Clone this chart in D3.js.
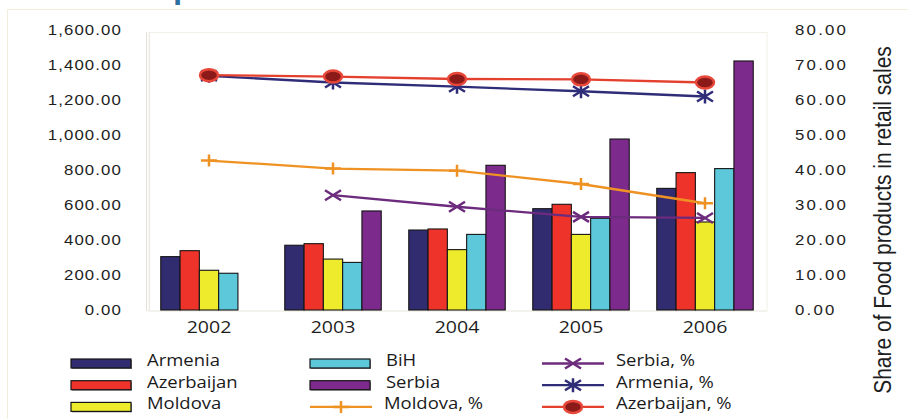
<!DOCTYPE html>
<html>
<head>
<meta charset="utf-8">
<script src="https://cdn.jsdelivr.net/npm/d3@7"></script>
<style>
  body { margin: 0; background: #fff; }
  svg { display: block; }
</style>
</head>
<body>
<svg id="chart" width="908" height="419"></svg>
<script>
// --- data ---
var years = ["2002", "2003", "2004", "2005", "2006"];
var barSeries = ["Armenia", "Azerbaijan", "Moldova", "BiH", "Serbia"];
var armenia = [305, 370, 457, 579, 695];
var azerbaijan = [339, 379, 463, 604, 785];
var moldova = [227, 291, 345, 432, 503];
var bih = [210, 272, 432, 524, 808];
var serbia = [null, 566, 827, 977, 1423];

var serbiaPct = [null, 32.8, 29.5, 26.6, 26.3];
var armeniaPct = [66.9, 65.0, 63.8, 62.5, 61.0];
var moldovaPct = [42.7, 40.4, 39.8, 36.0, 30.5];
var azerbaijanPct = [67.1, 66.7, 66.0, 65.9, 65.0];

var leftTicks = [0, 200, 400, 600, 800, 1000, 1200, 1400, 1600];
var rightTicks = [0, 10, 20, 30, 40, 50, 60, 70, 80];
var rightTitle = "Share of Food products in retail sales";

var barColors = {Armenia: "#312c6f", Azerbaijan: "#ee332b", Moldova: "#eeea2c", BiH: "#5cc8d9", Serbia: "#7c2a8c"};
var barValues = {Armenia: armenia, Azerbaijan: azerbaijan, Moldova: moldova, BiH: bih, Serbia: serbia};

var lineSeries = [
	{name: "Serbia, %", values: serbiaPct, color: "#6c2b7d", marker: "x"},
	{name: "Armenia, %", values: armeniaPct, color: "#2f2d78", marker: "star"},
	{name: "Moldova, %", values: moldovaPct, color: "#ef9224", marker: "plus"},
	{name: "Azerbaijan, %", values: azerbaijanPct, color: "#e4402e", marker: "dot"}
];

var svg = d3.select("#chart"),
	plotLeft = 147,
	plotRight = 767,
	plotTop = 30,
	plotBottom = 310;

var x0 = d3.scaleBand().domain(years).range([plotLeft, plotRight]).paddingInner(0.222).paddingOuter(0.111),
	x1 = d3.scaleBand().domain(barSeries).range([0, x0.bandwidth()]),
	yL = d3.scaleLinear().domain([0, 1600]).range([plotBottom, plotTop]),
	yR = d3.scaleLinear().domain([0, 80]).range([plotBottom, plotTop]);

// faint outer frame + the tail of a title that is cut off above the picture
svg.append("path")
	.attr("d", "M7.5,419 L7.5,9.5 L908,9.5")
	.attr("fill", "none").attr("stroke", "#f1eedd").attr("stroke-width", 1);
svg.append("text")
	.attr("x", 173).attr("y", -2.5)
	.attr("font-family", "Open Sans").attr("font-weight", "bold").attr("font-size", 30)
	.attr("fill", "#2e6f9e")
	.text("p");

// plot frame
svg.append("rect")
	.attr("x", plotLeft + 2).attr("y", plotTop + 2.5)
	.attr("width", plotRight - plotLeft - 2).attr("height", plotBottom - plotTop - 1.5)
	.attr("fill", "none").attr("stroke", "#f1efe6");
svg.append("line")
	.attr("x1", plotLeft - 0.5).attr("x2", plotLeft - 0.5).attr("y1", plotTop + 2).attr("y2", plotBottom + 1)
	.attr("stroke", "#e2e0d8");
svg.append("line")
	.attr("x1", plotLeft + 2.5).attr("x2", plotLeft + 2.5).attr("y1", plotTop + 2).attr("y2", plotBottom + 1)
	.attr("stroke", "#eceae2");
svg.append("line")
	.attr("x1", plotLeft).attr("x2", plotRight).attr("y1", plotBottom + 1).attr("y2", plotBottom + 1)
	.attr("stroke", "#efeee8");

// --- BARS --- //
var group = svg.selectAll(".year").data(years).enter().append("g")
	.attr("class", "year")
	.attr("transform", function(d) { return "translate(" + x0(d) + ",0)"; });

group.selectAll("rect")
	.data(function(d, i) {
		return barSeries.map(function(s) { return {series: s, value: barValues[s][i]}; })
			.filter(function(b) { return b.value !== null; });
	})
	.enter().append("rect")
	.attr("x", function(d) { return x1(d.series); })
	.attr("y", function(d) { return yL(d.value); })
	.attr("width", x1.bandwidth())
	.attr("height", function(d) { return yL(0) - yL(d.value); })
	.attr("fill", function(d) { return barColors[d.series]; })
	.attr("stroke", "#151515")
	.attr("stroke-width", 1.1);

// --- LINES --- //
function markerPath(type) {
	if (type === "x") return "M-8,-5L8,5M-8,5L8,-5";
	if (type === "star") return "M-8,-5L8,5M-8,5L8,-5M0,-7L0,7";
	if (type === "plus") return "M-8,0L8,0M0,-6L0,6";
	return null;
}

function drawMarker(sel, s) {
	if (s.marker === "dot") {
		sel.append("ellipse").attr("rx", 9).attr("ry", 6)
			.attr("fill", "#8c1a18").attr("stroke", "#e8483a").attr("stroke-width", 2.5);
	} else {
		sel.append("path").attr("d", markerPath(s.marker))
			.attr("fill", "none").attr("stroke", s.color).attr("stroke-width", 2.5);
	}
}

var cx = function(i) { return x0(years[i]) + x0.bandwidth() / 2; };
var line = d3.line()
	.defined(function(d) { return d !== null; })
	.x(function(d, i) { return cx(i); })
	.y(function(d) { return yR(d); });

lineSeries.forEach(function(s) {
	var g = svg.append("g").attr("class", "series");
	g.append("path")
		.datum(s.values)
		.attr("d", line)
		.attr("fill", "none")
		.attr("stroke", s.color)
		.attr("stroke-width", 2.3);
	g.selectAll(".mk")
		.data(s.values.map(function(v, i) { return {v: v, i: i}; }).filter(function(d) { return d.v !== null; }))
		.enter().append("g")
		.attr("class", "mk")
		.attr("transform", function(d) { return "translate(" + cx(d.i) + "," + yR(d.v) + ")"; })
		.each(function() { drawMarker(d3.select(this), s); });
});

// --- AXES --- //
var leftAxis = svg.append("g")
	.attr("transform", "translate(" + plotLeft + ",0)")
	.call(d3.axisLeft(yL).tickValues(leftTicks).tickFormat(d3.format(",.2f")).tickSize(0));
leftAxis.select(".domain").remove();
leftAxis.selectAll("text")
	.attr("x", -25 / 1.12)
	.attr("transform", "scale(1.12,1)")
	.attr("font-family", "Liberation Sans").attr("font-size", 15)
	.attr("letter-spacing", 1).attr("fill", "#1e1e1e");

var rightAxis = svg.append("g")
	.attr("transform", "translate(" + plotRight + ",0)")
	.call(d3.axisRight(yR).tickValues(rightTicks).tickFormat(d3.format(".2f")).tickSize(0));
rightAxis.select(".domain").remove();
rightAxis.selectAll("text")
	.attr("x", 28 / 1.12)
	.attr("transform", "scale(1.12,1)")
	.attr("font-family", "Liberation Sans").attr("font-size", 15)
	.attr("letter-spacing", 2).attr("fill", "#1e1e1e");

var bottomAxis = svg.append("g")
	.attr("transform", "translate(0," + plotBottom + ")")
	.call(d3.axisBottom(x0).tickSize(0).tickPadding(11));
bottomAxis.select(".domain").remove();
bottomAxis.selectAll("text")
	.attr("transform", "scale(1.15,1)")
	.attr("font-family", "Open Sans").attr("font-size", 17).attr("fill", "#1e1e1e");
bottomAxis.selectAll(".tick").attr("transform", function(d) {
	return "translate(" + (x0(d) + x0.bandwidth() / 2) + ",0)";
});

svg.append("text")
	.attr("transform", "translate(891,220) scale(1.12,1) rotate(-90)")
	.attr("text-anchor", "middle")
	.attr("font-family", "Liberation Sans").attr("font-size", 21)
	.attr("fill", "#1e1e1e")
	.text(rightTitle);

// --- LEGEND --- //
var legendItems = [
	{name: "Armenia", col: 0, row: 0, bar: "Armenia"},
	{name: "Azerbaijan", col: 0, row: 1, bar: "Azerbaijan"},
	{name: "Moldova", col: 0, row: 2, bar: "Moldova"},
	{name: "BiH", col: 1, row: 0, bar: "BiH"},
	{name: "Serbia", col: 1, row: 1, bar: "Serbia"},
	{name: "Moldova, %", col: 1, row: 2, line: lineSeries[2]},
	{name: "Serbia, %", col: 2, row: 0, line: lineSeries[0]},
	{name: "Armenia, %", col: 2, row: 1, line: lineSeries[1]},
	{name: "Azerbaijan, %", col: 2, row: 2, line: lineSeries[3]}
];
var legendCols = [71, 310, 542],
	legendRow0 = 363.5,
	legendRowStep = 21.7;

var item = svg.selectAll(".legend-item").data(legendItems).enter().append("g")
	.attr("class", "legend-item")
	.attr("transform", function(d) {
		return "translate(" + legendCols[d.col] + "," + (legendRow0 + d.row * legendRowStep) + ")";
	});

item.each(function(d) {
	var g = d3.select(this);
	if (d.bar) {
		g.append("rect")
			.attr("x", 1).attr("y", -3.5).attr("width", 60).attr("height", 9)
			.attr("fill", "#8a8a8a");
		g.append("rect")
			.attr("x", 0).attr("y", -4.5).attr("width", 60).attr("height", 9)
			.attr("fill", barColors[d.bar]).attr("stroke", "#151515").attr("stroke-width", 1.2);
	} else {
		g.append("line")
			.attr("x1", 0).attr("x2", 62).attr("y1", 0).attr("y2", 0)
			.attr("stroke", d.line.color).attr("stroke-width", 2.3);
		var m = g.append("g").attr("transform", "translate(31,0)");
		drawMarker(m, d.line);
	}
	g.append("text")
		.attr("transform", "translate(" + (d.bar ? 76 : 74) + ",2.5) scale(1.12,1)")
		.attr("font-family", "Open Sans").attr("font-size", 16.5)
		.attr("fill", "#1a1a1a")
		.text(d.name);
});
</script>
</body>
</html>
